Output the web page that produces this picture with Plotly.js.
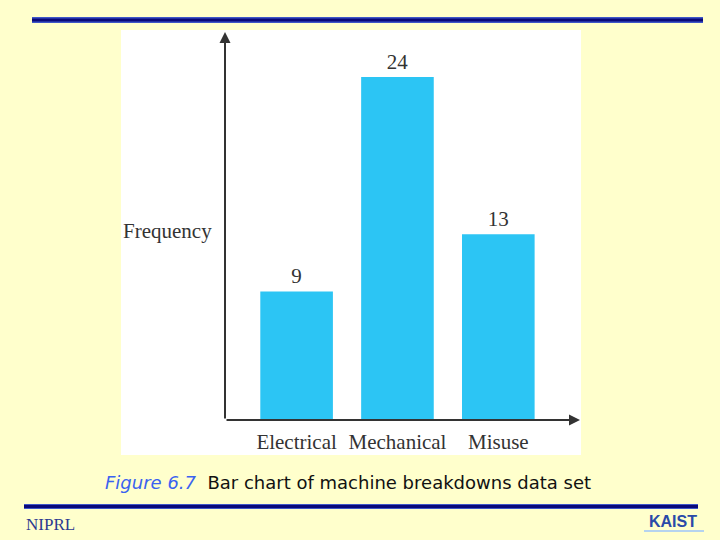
<!DOCTYPE html>
<html>
<head>
<meta charset="utf-8">
<script src="https://cdn.plot.ly/plotly-3.0.1.min.js"></script>
<style>
  html, body { margin: 0; padding: 0; background: #ffffcc; }
  #chart { width: 720px; height: 540px; }
</style>
</head>
<body>
<div id="chart"></div>
<script>
// machine breakdowns data set (Figure 6.7)
var causes = ["Electrical", "Mechanical", "Misuse"];
var frequency = [9, 24, 13];

// page is 720x540 with zero margins, so paper coords map straight to pixels
function px(x) { return x / 720; }
function py(y) { return 1 - y / 540; }

var serif = "'Liberation Serif', 'DejaVu Serif', serif";
var sans = "'DejaVu Sans', Verdana, sans-serif";
var ink = "#333333";

var data = [
  {
    type: "bar",
    x: causes,
    y: frequency,
    marker: { color: "#2cc5f4", line: { width: 0 } },
    text: frequency.map(String),
    textposition: "outside",
    textfont: { family: serif, size: 21, color: ink },
    cliponaxis: false,
    hoverinfo: "none"
  }
];

var layout = {
  width: 720,
  height: 540,
  margin: { l: 0, r: 0, t: 0, b: 0 },
  paper_bgcolor: "#ffffcc",
  plot_bgcolor: "rgba(0,0,0,0)",
  showlegend: false,
  bargap: 0.28,
  xaxis: {
    domain: [px(225), px(580)],
    range: [-0.71, 2.81],
    showline: false,
    showgrid: false,
    zeroline: false,
    ticks: "",
    ticklabelstandoff: 7,
    tickfont: { family: serif, size: 21, color: ink },
    fixedrange: true
  },
  yaxis: {
    domain: [py(420), py(32)],
    range: [0, 27.15],
    showline: false,
    showgrid: false,
    zeroline: false,
    showticklabels: false,
    ticks: "",
    fixedrange: true
  },
  shapes: [
    // white figure panel
    { type: "rect", xref: "paper", yref: "paper", layer: "below",
      x0: px(121), x1: px(581), y0: py(455), y1: py(30),
      fillcolor: "#ffffff", line: { width: 0 } },
    // top rule
    { type: "line", xref: "paper", yref: "paper",
      x0: px(32), x1: px(703), y0: py(20), y1: py(20),
      line: { color: "#3f56c8", width: 6 } },
    { type: "line", xref: "paper", yref: "paper",
      x0: px(32), x1: px(703), y0: py(20), y1: py(20),
      line: { color: "#0a0a7a", width: 3 } },
    // bottom rule
    { type: "line", xref: "paper", yref: "paper",
      x0: px(24), x1: px(698), y0: py(506.5), y1: py(506.5),
      line: { color: "#3f56c8", width: 5 } },
    { type: "line", xref: "paper", yref: "paper",
      x0: px(24), x1: px(698), y0: py(506.5), y1: py(506.5),
      line: { color: "#0a0a7a", width: 3 } },
    // swoosh under the KAIST logo
    { type: "line", xref: "paper", yref: "paper",
      x0: px(644), x1: px(704), y0: py(531), y1: py(531),
      line: { color: "#b5d3ef", width: 2 } }
  ],
  annotations: [
    // y axis with arrow
    { xref: "paper", yref: "paper", x: px(225), y: py(32), text: "",
      showarrow: true, ax: 0, ay: 388, arrowhead: 2, arrowsize: 1.1,
      arrowwidth: 2, arrowcolor: ink },
    // x axis with arrow
    { xref: "paper", yref: "paper", x: px(580), y: py(420), text: "",
      showarrow: true, ax: -355, ay: 0, arrowhead: 2, arrowsize: 1.1,
      arrowwidth: 2, arrowcolor: ink },
    { xref: "paper", yref: "paper", x: px(121), y: py(231),
      xanchor: "left", yanchor: "middle", showarrow: false,
      text: "Frequency", font: { family: serif, size: 21, color: ink } },
    // caption
    { xref: "paper", yref: "paper", x: px(103), y: py(482),
      xanchor: "left", yanchor: "middle", showarrow: false,
      text: "<i><span style='color:#3a62f0'>Figure 6.7</span></i>  Bar chart of machine breakdowns data set",
      font: { family: sans, size: 18, color: "#111111" } },
    { xref: "paper", yref: "paper", x: px(24), y: py(524),
      xanchor: "left", yanchor: "middle", showarrow: false,
      text: "NIPRL", font: { family: serif, size: 17, color: "#2b3990" } },
    { xref: "paper", yref: "paper", x: px(673), y: py(521),
      xanchor: "center", yanchor: "middle", showarrow: false,
      text: "<b>KAIST</b>", font: { family: "'Liberation Sans', Arial, sans-serif", size: 16, color: "#2a4aa8" } }
  ]
};

Plotly.newPlot("chart", data, layout, { displayModeBar: false, staticPlot: true });
</script>
</body>
</html>
